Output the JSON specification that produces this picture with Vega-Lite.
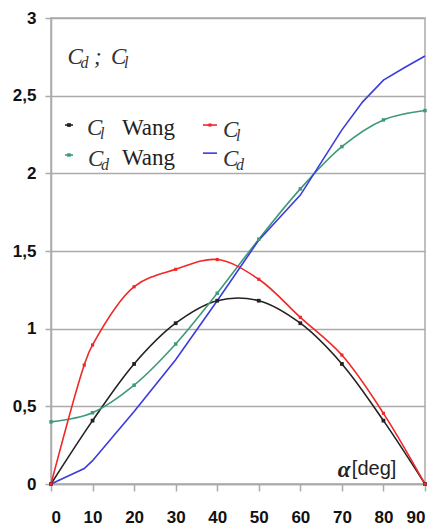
{
  "$schema": "https://vega.github.io/schema/vega-lite/v6.json",
  "width": 374,
  "height": 466,
  "autosize": {"type": "none"},
  "padding": {"left": 51, "top": 18, "right": 11, "bottom": 45},
  "background": "white",
  "config": {
    "view": {"stroke": "#aaaaaa", "strokeWidth": 1.5},
    "axis": {"labelFont": "Liberation Sans", "labelFontWeight": "bold", "labelFontSize": 17, "labelColor": "#111111", "domainColor": "#aaaaaa", "domainWidth": 1.5, "tickColor": "#aaaaaa", "tickWidth": 1.5, "gridColor": "#aaaaaa", "gridWidth": 1.5, "title": null}
  },
  "datasets": {
    "curves": [
      {"s": "Cl Wang", "a": 0, "v": 0}, {"s": "Cl Wang", "a": 10, "v": 0.408}, {"s": "Cl Wang", "a": 20, "v": 0.773}, {"s": "Cl Wang", "a": 30, "v": 1.035}, {"s": "Cl Wang", "a": 40, "v": 1.18}, {"s": "Cl Wang", "a": 50, "v": 1.18}, {"s": "Cl Wang", "a": 60, "v": 1.035}, {"s": "Cl Wang", "a": 70, "v": 0.773}, {"s": "Cl Wang", "a": 80, "v": 0.408}, {"s": "Cl Wang", "a": 90, "v": 0},
      {"s": "Cd Wang", "a": 0, "v": 0.4}, {"s": "Cd Wang", "a": 10, "v": 0.459}, {"s": "Cd Wang", "a": 20, "v": 0.636}, {"s": "Cd Wang", "a": 30, "v": 0.901}, {"s": "Cd Wang", "a": 40, "v": 1.228}, {"s": "Cd Wang", "a": 50, "v": 1.576}, {"s": "Cd Wang", "a": 60, "v": 1.9}, {"s": "Cd Wang", "a": 70, "v": 2.172}, {"s": "Cd Wang", "a": 80, "v": 2.344}, {"s": "Cd Wang", "a": 90, "v": 2.404},
      {"s": "Cl", "a": 0, "v": 0}, {"s": "Cl", "a": 8, "v": 0.766}, {"s": "Cl", "a": 10, "v": 0.895}, {"s": "Cl", "a": 20, "v": 1.27}, {"s": "Cl", "a": 30, "v": 1.382}, {"s": "Cl", "a": 40, "v": 1.445}, {"s": "Cl", "a": 50, "v": 1.318}, {"s": "Cl", "a": 60, "v": 1.073}, {"s": "Cl", "a": 70, "v": 0.83}, {"s": "Cl", "a": 80, "v": 0.455}, {"s": "Cl", "a": 90, "v": 0},
      {"s": "Cd", "a": 0, "v": 0}, {"s": "Cd", "a": 8, "v": 0.1}, {"s": "Cd", "a": 10, "v": 0.15}, {"s": "Cd", "a": 20, "v": 0.466}, {"s": "Cd", "a": 30, "v": 0.8}, {"s": "Cd", "a": 40, "v": 1.18}, {"s": "Cd", "a": 50, "v": 1.57}, {"s": "Cd", "a": 60, "v": 1.86}, {"s": "Cd", "a": 70, "v": 2.28}, {"s": "Cd", "a": 75, "v": 2.46}, {"s": "Cd", "a": 80, "v": 2.6}, {"s": "Cd", "a": 85, "v": 2.68}, {"s": "Cd", "a": 90, "v": 2.755}
    ],
    "legsym": [
      {"s": "Cl Wang", "x1": 3.37, "x2": 5.29, "xm": 4.33, "y": 2.311},
      {"s": "Cd Wang", "x1": 3.37, "x2": 5.29, "xm": 4.33, "y": 2.118},
      {"s": "Cl", "x1": 36.57, "x2": 39.94, "xm": 38.26, "y": 2.311},
      {"s": "Cd", "x1": 36.57, "x2": 39.94, "xm": 38.26, "y": 2.13}
    ],
    "txt": [
      {"k": "sym", "x": 4.0, "y": 2.704, "t": "C", "sub": "d"},
      {"k": "sym", "x": 10.35, "y": 2.704, "t": ";", "sub": ""},
      {"k": "sym", "x": 14.44, "y": 2.704, "t": "C", "sub": "l"},
      {"k": "sym", "x": 8.66, "y": 2.247, "t": "C", "sub": "l"},
      {"k": "word", "x": 17.08, "y": 2.247, "t": "Wang", "sub": ""},
      {"k": "sym", "x": 8.9, "y": 2.05, "t": "C", "sub": "d"},
      {"k": "word", "x": 17.08, "y": 2.054, "t": "Wang", "sub": ""},
      {"k": "sym", "x": 41.4, "y": 2.234, "t": "C", "sub": "l"},
      {"k": "sym", "x": 41.4, "y": 2.047, "t": "C", "sub": "d"},
      {"k": "alpha", "x": 69.0, "y": 0.045, "t": "α", "sub": ""},
      {"k": "unit", "x": 72.4, "y": 0.06, "t": "[deg]", "sub": ""}
    ]
  },
  "layer": [
    {
      "data": {"name": "curves"},
      "transform": [{"filter": "datum.s !== 'Cd'"}],
      "mark": {"type": "line", "interpolate": "catmull-rom", "strokeWidth": 1.6},
      "encoding": {
        "x": {"field": "a", "type": "quantitative", "scale": {"domain": [0, 90], "nice": false}, "axis": {"values": [0, 10, 20, 30, 40, 50, 60, 70, 80, 90], "grid": false, "tickSize": 7, "labelPadding": 18}},
        "y": {"field": "v", "type": "quantitative", "scale": {"domain": [0, 3], "nice": false}, "axis": {"values": [0, 0.5, 1, 1.5, 2, 2.5, 3], "grid": true, "tickSize": 6, "labelPadding": 9, "labelExpr": "replace(format(datum.value, '.1~f'), '.', ',')"}},
        "color": {"field": "s", "type": "nominal", "scale": {"domain": ["Cl Wang", "Cd Wang", "Cl", "Cd"], "range": ["#222222", "#3f9a78", "#f02828", "#3c3cdc"]}, "legend": null},
        "detail": {"field": "s"}
      }
    },
    {
      "data": {"name": "curves"},
      "transform": [{"filter": "datum.s === 'Cd'"}],
      "mark": {"type": "line", "interpolate": "linear", "strokeWidth": 1.6},
      "encoding": {
        "x": {"field": "a", "type": "quantitative"},
        "y": {"field": "v", "type": "quantitative"},
        "color": {"field": "s", "type": "nominal", "legend": null}
      }
    },
    {
      "data": {"name": "curves"},
      "transform": [{"filter": "datum.s !== 'Cd'"}],
      "mark": {"type": "point", "shape": "square", "filled": true, "opacity": 1},
      "encoding": {
        "x": {"field": "a", "type": "quantitative"},
        "y": {"field": "v", "type": "quantitative"},
        "color": {"field": "s", "type": "nominal", "legend": null},
        "size": {"field": "s", "type": "nominal", "scale": {"domain": ["Cl Wang", "Cd Wang", "Cl"], "range": [14, 10, 24]}, "legend": null}
      }
    },
    {
      "data": {"name": "legsym"},
      "mark": {"type": "rule", "strokeWidth": 1.6},
      "encoding": {
        "x": {"field": "x1", "type": "quantitative"},
        "x2": {"field": "x2"},
        "y": {"field": "y", "type": "quantitative"},
        "color": {"field": "s", "type": "nominal", "legend": null}
      }
    },
    {
      "data": {"name": "legsym"},
      "transform": [{"filter": "datum.s !== 'Cd'"}],
      "mark": {"type": "point", "shape": "square", "filled": true, "opacity": 1},
      "encoding": {
        "x": {"field": "xm", "type": "quantitative"},
        "y": {"field": "y", "type": "quantitative"},
        "color": {"field": "s", "type": "nominal", "legend": null},
        "size": {"field": "s", "type": "nominal", "legend": null}
      }
    },
    {
      "data": {"name": "txt"},
      "transform": [{"filter": "datum.k === 'sym'"}],
      "mark": {"type": "text", "font": "Liberation Serif", "fontStyle": "italic", "fontSize": 23, "align": "left", "baseline": "alphabetic", "color": "#333333"},
      "encoding": {"x": {"field": "x", "type": "quantitative"}, "y": {"field": "y", "type": "quantitative"}, "text": {"field": "t"}}
    },
    {
      "data": {"name": "txt"},
      "transform": [{"filter": "datum.k === 'sym' && datum.sub !== ''"}],
      "mark": {"type": "text", "font": "Liberation Serif", "fontStyle": "italic", "fontSize": 16, "align": "left", "baseline": "alphabetic", "dx": 13, "dy": 4, "color": "#333333"},
      "encoding": {"x": {"field": "x", "type": "quantitative"}, "y": {"field": "y", "type": "quantitative"}, "text": {"field": "sub"}}
    },
    {
      "data": {"name": "txt"},
      "transform": [{"filter": "datum.k === 'word'"}],
      "mark": {"type": "text", "font": "Liberation Serif", "fontSize": 23, "align": "left", "baseline": "alphabetic", "color": "#222222"},
      "encoding": {"x": {"field": "x", "type": "quantitative"}, "y": {"field": "y", "type": "quantitative"}, "text": {"field": "t"}}
    },
    {
      "data": {"name": "txt"},
      "transform": [{"filter": "datum.k === 'alpha'"}],
      "mark": {"type": "text", "font": "Liberation Serif", "fontStyle": "italic", "fontWeight": "bold", "fontSize": 23, "align": "left", "baseline": "alphabetic", "color": "#222222"},
      "encoding": {"x": {"field": "x", "type": "quantitative"}, "y": {"field": "y", "type": "quantitative"}, "text": {"field": "t"}}
    },
    {
      "data": {"name": "txt"},
      "transform": [{"filter": "datum.k === 'unit'"}],
      "mark": {"type": "text", "font": "Liberation Sans", "fontSize": 20, "align": "left", "baseline": "alphabetic", "color": "#222222"},
      "encoding": {"x": {"field": "x", "type": "quantitative"}, "y": {"field": "y", "type": "quantitative"}, "text": {"field": "t"}}
    }
  ]
}
